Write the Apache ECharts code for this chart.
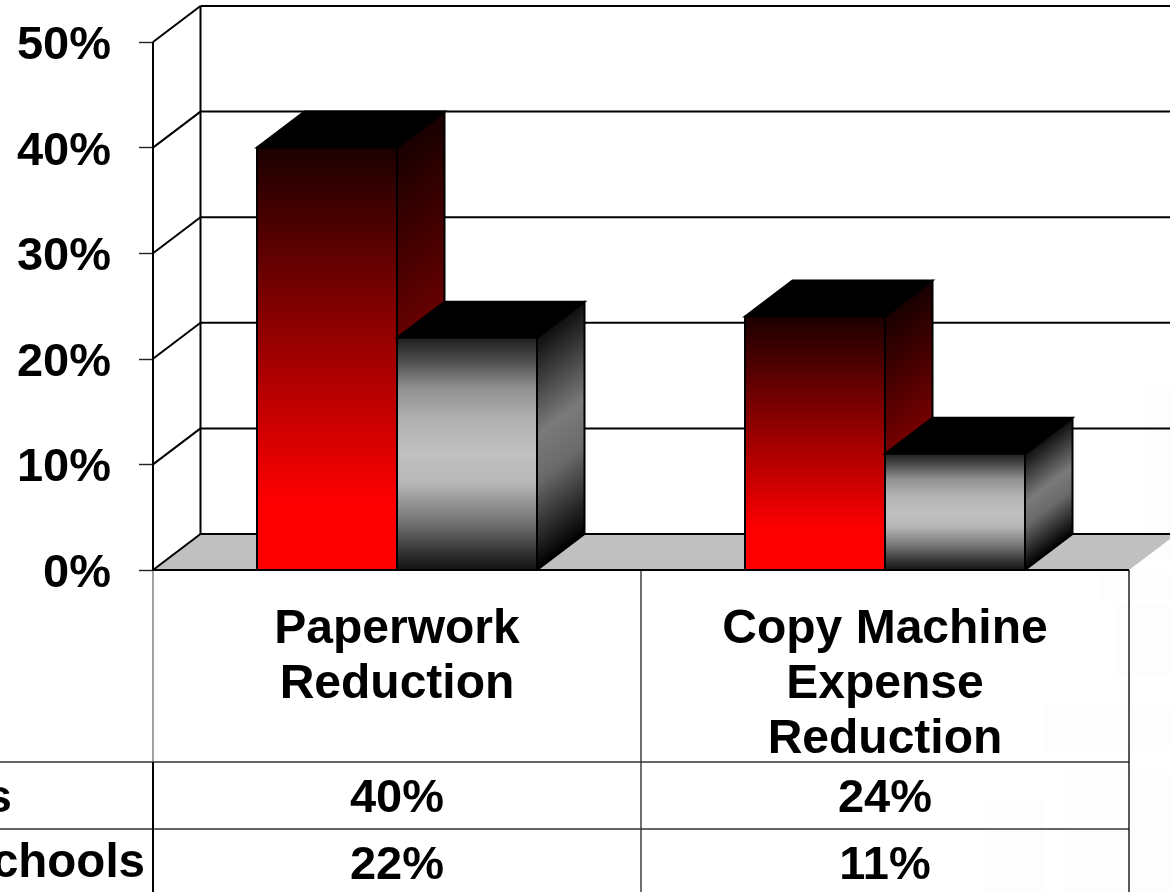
<!DOCTYPE html>
<html><head><meta charset="utf-8">
<style>html,body{margin:0;padding:0;background:#fff;overflow:hidden}#c{width:1170px;height:892px}</style>
<script src="https://cdn.jsdelivr.net/npm/echarts@6/dist/echarts.min.js"></script>
</head><body><div id="c"></div>
<script>
const categories = ['Paperwork\nReduction', 'Copy Machine\nExpense\nReduction'];
const redValues = [40, 24];
const grayValues = [22, 11];
const yTicks = [0, 10, 20, 30, 40, 50];
const rowLabels = ['s', 'chools'];
const rowRed = ['40%', '24%'];
const rowGray = ['22%', '11%'];

const FONT = '"Liberation Sans", Arial, sans-serif';
const DX = 47.5, DY = -36, BAR = 140;
const chart = echarts.init(document.getElementById('c'), null, {renderer: 'canvas'});
const grad = (stops) => ({type: 'linear', x: 0, y: 0, x2: 0, y2: 1,
  colorStops: stops.map(s => ({offset: s[0], color: s[1]}))});

function wallItem(params, api) {
  const cs = params.coordSys;
  const v = api.value(1), y = api.coord([0, v])[1];
  const L = cs.x, R = cs.x + cs.width;
  const line = {stroke: '#000', lineWidth: 2};
  const kids = [];
  if (v === 0) {
    kids.push({type: 'polygon', shape: {points: [[L, y], [R, y], [R + DX, y + DY], [L + DX, y + DY]]},
      style: {fill: '#c0c0c0', stroke: null}});
  }
  if (v === yTicks[yTicks.length - 1]) {
    const y0 = api.coord([0, 0])[1];
    kids.push({type: 'line', shape: {x1: L, y1: y0, x2: L, y2: y}, style: line});
    kids.push({type: 'line', shape: {x1: L + DX, y1: y0 + DY, x2: L + DX, y2: y + DY}, style: line});
  }
  kids.push({type: 'line', shape: {x1: L, y1: y, x2: L + DX, y2: y + DY}, style: line});
  kids.push({type: 'line', shape: {x1: L + DX, y1: y + DY, x2: R + DX, y2: y + DY}, style: line});
  if (v === 0) kids.push({type: 'line', shape: {x1: L, y1: y, x2: R, y2: y}, style: line});
  return {type: 'group', children: kids};
}

function barRenderer(isRed) {
  return function (params, api) {
    const p = api.coord([api.value(0), api.value(1)]);
    const base = api.coord([api.value(0), 0]);
    const x0 = isRed ? p[0] - BAR : p[0], x1 = x0 + BAR, yt = p[1], yb = base[1];
    const edge = {stroke: '#000', lineWidth: 2, lineJoin: 'round'};
    const front = isRed
      ? grad([[0, '#1a0000'], [0.84, '#ff0000'], [1, '#ff0000']])
      : grad([[0, '#1c1c1c'], [0.1, '#4c4c4c'], [0.22, '#909090'], [0.36, '#b2b2b2'], [0.5, '#c0c0c0'],
              [0.62, '#b8b8b8'], [0.78, '#787878'], [0.93, '#2e2e2e'], [1, '#111111']]);
    const h = yb - yt, n = h * 0.797;
    const side = {type: 'linear', global: true, x: x1, y: yt, x2: x1 + n * 0.604, y2: yt + n * 0.797,
      colorStops: isRed
        ? [{offset: 0, color: '#180000'}, {offset: 0.84, color: '#a80000'}, {offset: 1, color: '#a80000'}]
        : [{offset: 0, color: '#0e0e0e'}, {offset: 0.42, color: '#7a7a7a'}, {offset: 0.62, color: '#6a6a6a'}, {offset: 1, color: '#000'}]};
    return {type: 'group', children: [
      {type: 'polygon', shape: {points: [[x1, yt], [x1 + DX, yt + DY], [x1 + DX, yb + DY], [x1, yb]]},
        style: Object.assign({fill: side}, edge)},
      {type: 'polygon', shape: {points: [[x0, yt], [x1, yt], [x1 + DX, yt + DY], [x0 + DX, yt + DY]]},
        style: {fill: '#000', stroke: '#000', lineWidth: 2}},
      {type: 'rect', shape: {x: x0, y: yt, width: BAR, height: yb - yt},
        style: Object.assign({fill: front}, edge)}
    ]};
  };
}

function rowRenderer(texts, py) {
  return function (params, api) {
    const x = api.coord([api.value(0), 0])[0];
    return {type: 'text', style: {text: texts[params.dataIndex], x: x, y: py, align: 'center', verticalAlign: 'middle',
      font: 'bold 47px ' + FONT, fill: '#000'}};
  };
}

const hLine = (x1, x2, y, c, w) => ({type: 'line', shape: {x1, y1: y, x2, y2: y}, style: {stroke: c, lineWidth: w}});
const vLine = (x, y1, y2, c, w) => ({type: 'line', shape: {x1: x, y1, x2: x, y2}, style: {stroke: c, lineWidth: w}});
const ghost = (x, y, w, h) => ({type: 'rect', z: -1, shape: {x, y, width: w, height: h}, style: {fill: '#fdfdfd'}});

const idx = (arr) => arr.map((v, i) => [i, v]);

chart.setOption({
  backgroundColor: '#fff',
  animation: false,
  grid: {left: 153, top: 42, width: 976, height: 528, containLabel: false},
  xAxis: {type: 'category', data: categories,
    axisLine: {show: false}, axisTick: {show: false},
    axisLabel: {interval: 0, margin: 32, fontFamily: FONT, fontWeight: 'bold', fontSize: 48, lineHeight: 55, color: '#000', verticalAlign: 'top'}},
  yAxis: {type: 'value', min: 0, max: 50, interval: 10,
    splitLine: {show: false},
    axisLine: {show: false},
    axisTick: {show: true, length: 14, lineStyle: {color: '#222', width: 1.4}},
    axisLabel: {margin: 42, fontFamily: FONT, fontWeight: 'bold', fontSize: 47, color: '#000',
      verticalAlign: 'top', lineHeight: 8, formatter: '{value}%'}},
  graphic: {elements: [
    ghost(1145, 385, 25, 175), ghost(1100, 570, 70, 30), ghost(1115, 605, 55, 70),
    ghost(1045, 705, 125, 45), ghost(1065, 770, 105, 122), ghost(985, 800, 60, 92),
    hLine(0, 1129, 762, '#333', 1.6), hLine(0, 1129, 829, '#333', 1.6),
    vLine(153, 570, 762, '#666', 1.2), vLine(153, 762, 892, '#000', 2),
    vLine(641, 570, 892, '#333', 1.4), vLine(1129, 570, 892, '#111', 1.4),
    {type: 'text', style: {text: rowLabels[0], x: 12, y: 799, align: 'right', verticalAlign: 'middle', font: 'bold 47px ' + FONT, fill: '#000'}},
    {type: 'text', style: {text: rowLabels[1], x: 145, y: 864, align: 'right', verticalAlign: 'middle', font: 'bold 47.5px ' + FONT, fill: '#000'}}
  ]},
  series: [
    {type: 'custom', name: 'walls', data: yTicks.map(t => [0, t]), renderItem: wallItem, silent: true, z: 1},
    {type: 'custom', name: 'red', data: idx(redValues), renderItem: barRenderer(true), z: 2},
    {type: 'custom', name: 'gray', data: idx(grayValues), renderItem: barRenderer(false), z: 3},
    {type: 'custom', name: 'row1', data: idx(redValues), renderItem: rowRenderer(rowRed, 799), z: 4},
    {type: 'custom', name: 'row2', data: idx(grayValues), renderItem: rowRenderer(rowGray, 866), z: 4}
  ]
});
</script></body></html>
